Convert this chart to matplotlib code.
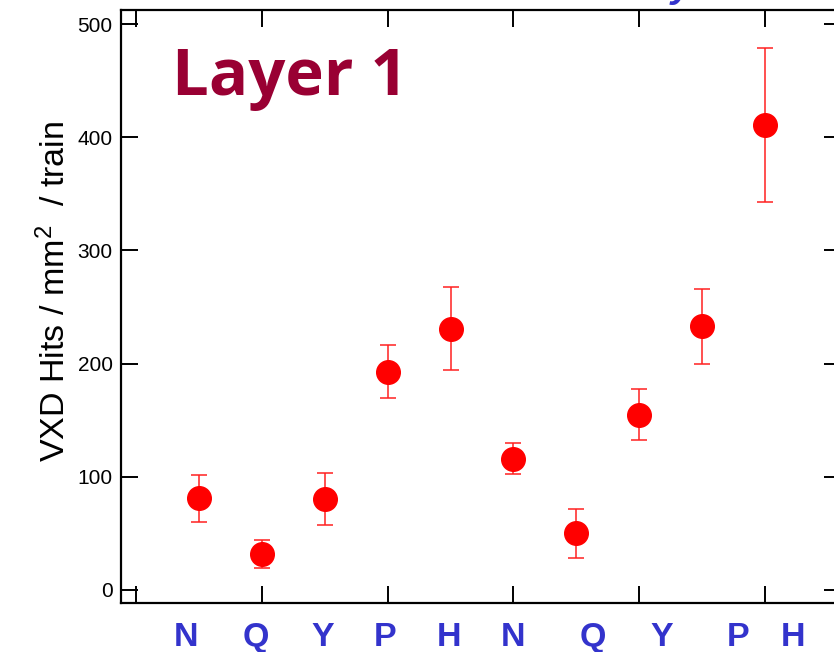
import matplotlib
matplotlib.use("Agg")
import matplotlib.pyplot as plt
import matplotlib.transforms as mtransforms

plt.rcParams["font.family"] = ["Liberation Sans", "DejaVu Sans"]
plt.rcParams["mathtext.fontset"] = "custom"
plt.rcParams["mathtext.rm"] = "Liberation Sans"
plt.rcParams["mathtext.it"] = "Liberation Sans:italic"

# Hit density per configuration (two sets of five)
categories = ["N", "Q", "Y", "P", "H", "N", "Q", "Y", "P", "H"]
hits = [81, 32, 80, 193, 231, 116, 50, 155, 233, 411]
errors = [21, 12.5, 23, 23, 37, 13.5, 21.5, 22.5, 33, 68]
y_ticks = [0, 100, 200, 300, 400, 500]
x_ticks = [-1, 1, 3, 5, 7, 9]

# horizontal placement of the category letters under the axis
label_x = [-0.21, 0.91, 1.97, 2.96, 3.97, 4.99, 6.26, 7.36, 8.57, 9.44]

fig = plt.figure(figsize=(8.34, 6.52), dpi=100)
ax = fig.add_axes([121 / 834, 49 / 652, 720 / 834, 593 / 652])

x = list(range(len(hits)))
ax.errorbar(x, hits, yerr=errors, fmt="o", color="#ff0000", ecolor="#ff2020",
            markersize=17, elinewidth=1.1, capsize=6, capthick=1.1, zorder=3)

ax.set_xlim(-1.24, 10.21)
ax.set_ylim(-11.5, 512.4)
ax.set_yticks(y_ticks)
ax.set_xticks(x_ticks)
ax.set_xticklabels([])
ax.tick_params(axis="both", direction="in", length=12, width=1.4,
               top=True, right=True, color="black")
ax.tick_params(axis="y", labelsize=15, pad=6)
for s in ax.spines.values():
    s.set_linewidth(1.6)

# category letters beneath the axis
trans = mtransforms.blended_transform_factory(ax.transData, ax.transAxes)
for xi, lab in zip(label_x, categories):
    ax.text(xi, -0.0725, lab, transform=trans, ha="center", va="baseline",
            fontsize=24.5, fontweight="bold", color="#3333cc",
            family=["Liberation Sans", "DejaVu Sans"], clip_on=False)

ax.text(0.071, 0.857, "Layer 1", transform=ax.transAxes, ha="left",
        va="baseline", fontsize=47, fontweight="bold", color="#990033",
        family=["Open Sans", "DejaVu Sans"])

fig.text(55 / 834, 1 - 291 / 652, "VXD Hits / mm$^{2}$  / train",
         rotation=90, ha="center", va="center", fontsize=24.5)

# heading above the frame, largely outside the canvas
fig.text(681 / 834, 1 + 3 / 652, "y", ha="center", va="baseline",
         fontsize=28, fontweight="bold", style="italic", color="#3333cc")

fig.savefig("out.png", dpi=100)
